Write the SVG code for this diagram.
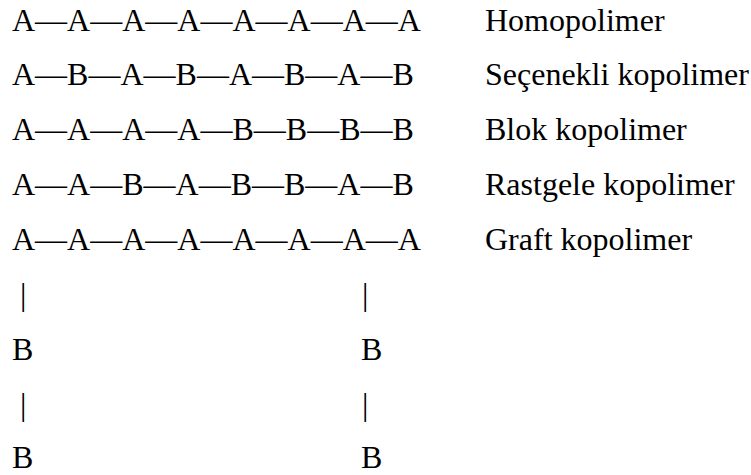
<svg xmlns="http://www.w3.org/2000/svg" width="751" height="475" viewBox="0 0 751 475">
<rect width="751" height="475" fill="#fff"/>
<g id="homopolimer">
<text x="12" y="31" font-family="Liberation Serif, Tinos, serif" font-size="32">A&#8212;A&#8212;A&#8212;A&#8212;A&#8212;A&#8212;A&#8212;A</text>
<text x="485" y="31" font-family="Liberation Serif, Tinos, serif" font-size="32">Homopolimer</text>
</g>
<g id="secenekli">
<text x="12" y="85" font-family="Liberation Serif, Tinos, serif" font-size="32">A&#8212;B&#8212;A&#8212;B&#8212;A&#8212;B&#8212;A&#8212;B</text>
<text x="485" y="85" font-family="Liberation Serif, Tinos, serif" font-size="32">Se&#231;enekli kopolimer</text>
</g>
<g id="blok">
<text x="12" y="140" font-family="Liberation Serif, Tinos, serif" font-size="32">A&#8212;A&#8212;A&#8212;A&#8212;B&#8212;B&#8212;B&#8212;B</text>
<text x="485" y="140" font-family="Liberation Serif, Tinos, serif" font-size="32">Blok kopolimer</text>
</g>
<g id="rastgele">
<text x="12" y="195" font-family="Liberation Serif, Tinos, serif" font-size="32">A&#8212;A&#8212;B&#8212;A&#8212;B&#8212;B&#8212;A&#8212;B</text>
<text x="485" y="195" font-family="Liberation Serif, Tinos, serif" font-size="32">Rastgele kopolimer</text>
</g>
<g id="graft">
<text x="12" y="250" font-family="Liberation Serif, Tinos, serif" font-size="32">A&#8212;A&#8212;A&#8212;A&#8212;A&#8212;A&#8212;A&#8212;A</text>
<text x="485" y="250" font-family="Liberation Serif, Tinos, serif" font-size="32">Graft kopolimer</text>
<text x="20" y="305" font-family="Liberation Serif, Tinos, serif" font-size="32">|</text>
<text x="362" y="305" font-family="Liberation Serif, Tinos, serif" font-size="32">|</text>
<text x="12" y="360" font-family="Liberation Serif, Tinos, serif" font-size="32">B</text>
<text x="361" y="360" font-family="Liberation Serif, Tinos, serif" font-size="32">B</text>
<text x="20" y="415" font-family="Liberation Serif, Tinos, serif" font-size="32">|</text>
<text x="362" y="415" font-family="Liberation Serif, Tinos, serif" font-size="32">|</text>
<text x="12" y="468" font-family="Liberation Serif, Tinos, serif" font-size="32">B</text>
<text x="361" y="468" font-family="Liberation Serif, Tinos, serif" font-size="32">B</text>
</g>
</svg>
